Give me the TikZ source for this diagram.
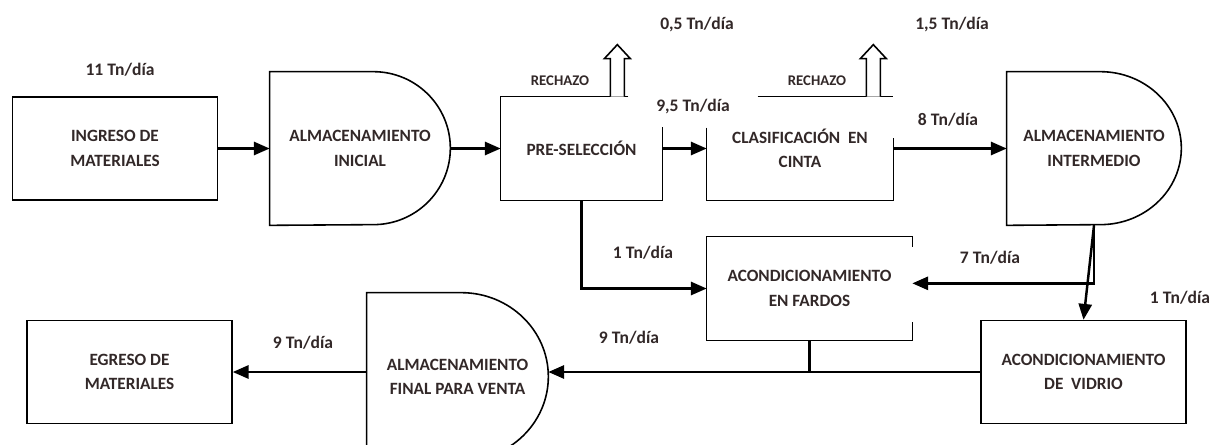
\documentclass[tikz,border=0pt]{standalone}
\usepackage{fontspec}
\setmainfont{Carlito}
\usetikzlibrary{arrows.meta,calc}
\definecolor{texto}{RGB}{50,40,40}

% almacenamiento: nodo, radio x, radio y
\newcommand{\almacen}[3]{%
	\draw[borde] (#1.north west) -- ([xshift=-#2]#1.north east)
		arc[start angle=90, end angle=-90, x radius=#2, y radius=#3]
		-- (#1.south west) -- cycle;}
% flecha hueca de rechazo
\newcommand{\rechazo}[1]{%
	\draw[borde, fill=white] (#1) ++(-7,0) -- ++(0,38) -- ++(-6,0)
		-- ++(13,14) -- ++(13,-14) -- ++(-6,0) -- ++(0,-38);}

\begin{document}
\begin{tikzpicture}[x=0.02cm, y=0.02cm,
	font=\fontsize{9.8}{13.8}\selectfont\bfseries, text=texto,
	borde/.style={line width=0.9pt},
	caja/.style={draw, borde, minimum width=4.1cm, minimum height=2.06cm,
		align=center, inner sep=0pt},
	hueco/.style={align=center, inner sep=0pt},
	flecha/.style={line width=1.4pt, -{Triangle[length=9pt,width=7.5pt]}},
	linea/.style={line width=1.4pt},
	dato/.style={font=\fontsize{10}{11}\selectfont\bfseries},
	rotulo/.style={font=\fontsize{8.4}{9}\selectfont\bfseries}]

	\useasboundingbox (0,0) rectangle (1211,444);
	\clip (0,0) rectangle (1211,444);
	\fill[white] (0,0) rectangle (1211,444);

	% fila de arriba
	\node[caja] (ing) at (115,295.5) {INGRESO DE\\MATERIALES};
	\node[hueco, minimum width=3.6cm, minimum height=3.06cm] (ain)
		at (360,295.5) {ALMACENAMIENTO\\INICIAL};
	\node[hueco, minimum width=3.22cm, minimum height=2.06cm] (pre)
		at (581.5,295.5) {PRE-SELECCIÓN};
	\node[hueco, minimum width=3.72cm, minimum height=2.06cm] (cla)
		at (800,295.5) {CLASIFICACIÓN\ \ EN\\CINTA};
	\node[hueco, minimum width=3.48cm, minimum height=3.06cm] (aint)
		at (1094,295.5) {ALMACENAMIENTO\\INTERMEDIO};

	% fila del medio y de abajo
	\node[hueco, minimum width=4.1cm, minimum height=2.06cm] (far)
		at (809.5,155.5) {ACONDICIONAMIENTO\\EN FARDOS};
	\node[caja] (vid) at (1083.5,72) {ACONDICIONAMIENTO\\DE\ \ VIDRIO};
	\node[hueco, minimum width=3.62cm, minimum height=3.36cm] (afin)
		at (457.5,67) {ALMACENAMIENTO\\FINAL PARA VENTA};
	\node[caja] (egr) at (129.5,72) {EGRESO DE\\MATERIALES};

	% contornos
	\almacen{ain}{1.54cm}{1.53cm}
	\almacen{aint}{1.62cm}{1.53cm}
	\almacen{afin}{1.74cm}{1.68cm}
	\draw[borde] ($(pre.north east)+(-34,0)$) -- (pre.north west)
		-- (pre.south west) -- (pre.south east)
		-- ($(pre.north east)+(0,-30)$);
	\draw[borde] ($(cla.north west)+(0,-31)$) -- (cla.south west)
		-- (cla.south east) -- ($(cla.north east)+(0,-41)$);
	\draw[borde] ($(cla.north west)+(51,0)$) -- (cla.north east);
	\draw[borde] ($(far.north east)+(0,-10)$) -- (far.north east)
		-- (far.north west) -- (far.south west) -- (far.south east)
		-- ($(far.south east)+(0,18)$);

	% rechazos
	\coordinate (r1) at ($(pre.north east)+(-45,0)$);
	\coordinate (r2) at ($(cla.north east)+(-20,0)$);
	\rechazo{r1}
	\rechazo{r2}

	% flujo
	\draw[flecha] (ing) -- (ain);
	\draw[flecha] (ain) -- (pre);
	\draw[flecha] (pre) -- (cla);
	\draw[flecha] (cla) -- (aint);
	\draw[flecha] (pre.south) |- (far.west);
	\coordinate (codo) at ($(aint.south)+(0,-58)$);
	\draw[flecha] (aint.south) -- (codo) -- (codo -| far.east);
	\draw[flecha] (aint.south) -- (vid.north);
	\coordinate (union) at (far.south |- vid.west);
	\draw[linea] (far.south) -- (union);
	\draw[borde] (vid.west) -- (union);
	\draw[flecha] (union) -- (union -| afin.east);
	\draw[flecha] (egr.east -| afin.west) -- (egr.east);

	% caudales
	\node[dato] (d1) at (120,374) {11 Tn/día};
	\node[rotulo] (rc1) at (560,363) {RECHAZO};
	\node[dato] (d2) at (697,419) {0,5 Tn/día};
	\node[dato] (d3) at (693,337) {9,5 Tn/día};
	\node[rotulo] (rc2) at (817,363) {RECHAZO};
	\node[dato] (d4) at (952,419) {1,5 Tn/día};
	\node[dato] (d5) at (948,324) {8 Tn/día};
	\node[dato] (d6) at (643,191) {1 Tn/día};
	\node[dato] (d7) at (990,186) {7 Tn/día};
	\node[dato] (d8) at (1180,146) {1 Tn/día};
	\node[dato] (d9) at (629,106) {9 Tn/día};
	\node[dato] (d10) at (303,101) {9 Tn/día};

\end{tikzpicture}
\end{document}
